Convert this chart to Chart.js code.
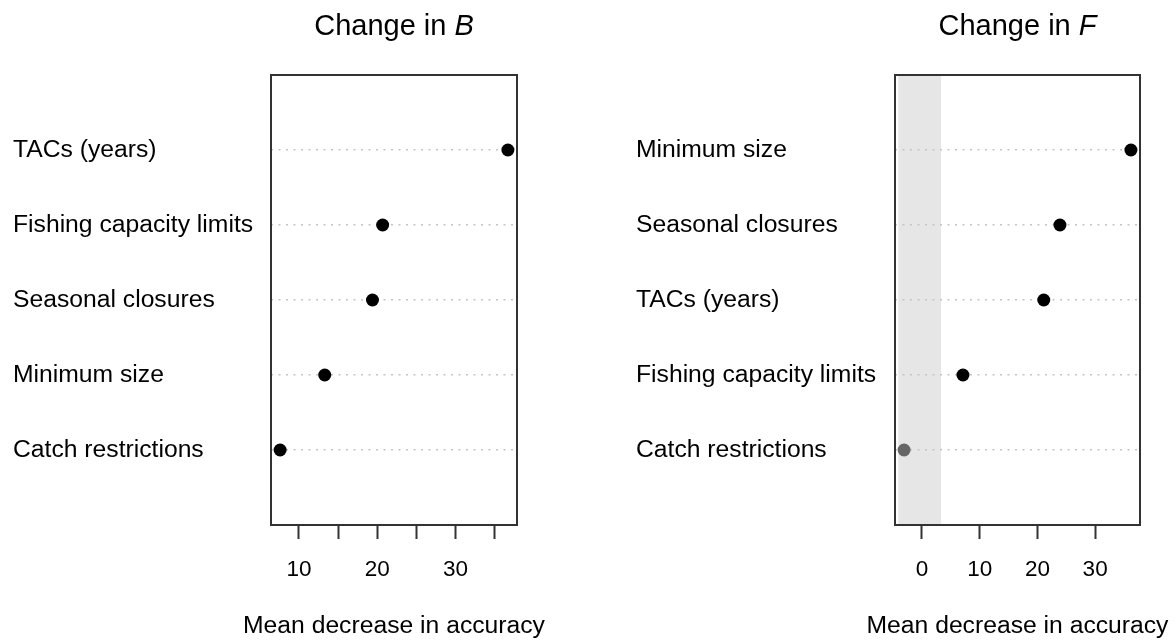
<!DOCTYPE html>
<html><head><meta charset="utf-8">
<script src="https://cdn.jsdelivr.net/npm/chart.js@4.4.1/dist/chart.umd.min.js"></script>
<style>
body{margin:0;background:#fff;}
#wrap{position:relative;width:1176px;height:640px;overflow:hidden;font-family:"Liberation Sans",Arial,sans-serif;}
.panel{position:absolute;top:0;width:588px;height:640px;}
.title{position:absolute;top:11px;font-size:29px;line-height:29px;color:#000;white-space:nowrap;transform:translateX(-50%);}
.xtitle{position:absolute;top:613px;font-size:24.7px;line-height:24.7px;color:#000;white-space:nowrap;transform:translateX(-50%);}
</style></head>
<body><div id="wrap">
<div class="panel" style="left:0"><canvas id="cB" width="588" height="640"></canvas></div>
<div class="panel" style="left:588px"><canvas id="cF" width="588" height="640"></canvas></div>
<div class="title" style="left:394px">Change in <i>B</i></div>
<div class="title" style="left:1017.5px">Change in <i>F</i></div>
<div class="xtitle" id="xtB" style="left:394px"></div>
<div class="xtitle" id="xtF" style="left:1017.5px"></div>
</div>
<script>
// ---- data ----
const categoriesB = ['TACs (years)', 'Fishing capacity limits', 'Seasonal closures', 'Minimum size', 'Catch restrictions'];
const valuesB = [36.7, 20.7, 19.4, 13.3, 7.6];
const categoriesF = ['Minimum size', 'Seasonal closures', 'TACs (years)', 'Fishing capacity limits', 'Catch restrictions'];
const valuesF = [36.2, 23.9, 21.1, 7.1, -3.1];
const xTicksB = [10, 15, 20, 25, 30, 35];
const xTickLabelsB = ['10', '', '20', '', '30', ''];
const xTicksF = [0, 10, 20, 30];
const xTickLabelsF = ['0', '10', '20', '30'];
const bandF = [-4.1, 3.3];
const xTitle = 'Mean decrease in accuracy';

document.getElementById('xtB').textContent = xTitle;
document.getElementById('xtF').textContent = xTitle;

const FONT = '"Liberation Sans", Arial, sans-serif';

function xlim(vals) {
  const mn = Math.min(...vals), mx = Math.max(...vals);
  const d = (mx - mn) * 0.04;
  return [mn - d, mx + d];
}

const boxPlugin = {
  id: 'box',
  afterDraw(chart) {
    const a = chart.chartArea, ctx = chart.ctx;
    ctx.save();
    ctx.strokeStyle = '#333';
    ctx.lineWidth = 2;
    ctx.strokeRect(a.left, a.top, a.right - a.left, a.bottom - a.top);
    ctx.restore();
  }
};
const bandPlugin = {
  id: 'band',
  beforeDraw(chart, args, opts) {
    if (!opts || !opts.range) return;
    const a = chart.chartArea, ctx = chart.ctx, x = chart.scales.x;
    const x1 = Math.max(a.left, x.getPixelForValue(opts.range[0]));
    const x2 = Math.min(a.right, x.getPixelForValue(opts.range[1]));
    ctx.save();
    ctx.fillStyle = '#e6e6e6';
    ctx.fillRect(x1, a.top, x2 - x1, a.bottom - a.top);
    ctx.restore();
  }
};

function makeChart(id, cats, vals, ticks, tickLabels, band, pad, yWidth) {
  const [mn, mx] = xlim(vals);
  const inBand = v => band && v >= band[0] && v <= band[1];
  return new Chart(document.getElementById(id), {
    type: 'scatter',
    data: {
      datasets: [{
        data: vals.map((v, i) => ({x: v, y: i + 1})),
        pointRadius: 6.5,
        pointHoverRadius: 6.5,
        pointBorderWidth: 0,
        pointBackgroundColor: ctx => inBand(vals[ctx.dataIndex]) ? '#666666' : '#000000',
        showLine: false,
        clip: false
      }]
    },
    options: {
      responsive: false,
      animation: false,
      events: [],
      layout: {padding: pad},
      plugins: {legend: {display: false}, tooltip: {enabled: false}, band: {range: band}},
      scales: {
        x: {
          type: 'linear', position: 'bottom', min: mn, max: mx,
          afterBuildTicks: s => { s.ticks = ticks.map(v => ({value: v})); },
          afterFit: s => { s.height = 115; },
          ticks: {
            callback: v => tickLabels[ticks.indexOf(v)],
            color: '#000', font: {family: FONT, size: 22.5}, padding: 17, maxRotation: 0, autoSkip: false
          },
          grid: {drawOnChartArea: false, drawTicks: true, tickLength: 14, tickWidth: 2, tickColor: '#333', color: '#333'},
          border: {display: false}
        },
        y: {
          type: 'linear', reverse: true, min: 0, max: cats.length + 1,
          afterBuildTicks: s => { s.ticks = cats.map((c, i) => ({value: i + 1})); },
          afterFit: s => { s.width = yWidth; },
          ticks: {
            callback: v => cats[v - 1],
            crossAlign: 'far', color: '#000', font: {family: FONT, size: 24.7}, padding: 0, autoSkip: false
          },
          grid: {color: '#c4c4c4', lineWidth: 1.5, drawTicks: false},
          border: {display: false, dash: [2, 5.5]}
        }
      }
    },
    plugins: [bandPlugin, boxPlugin]
  });
}

makeChart('cB', categoriesB, valuesB, xTicksB, xTickLabelsB, null, {left: 13, top: 75, right: 71, bottom: 0}, 258);
makeChart('cF', categoriesF, valuesF, xTicksF, xTickLabelsF, bandF, {left: 48, top: 75, right: 36, bottom: 0}, 259);
</script>
</body></html>
